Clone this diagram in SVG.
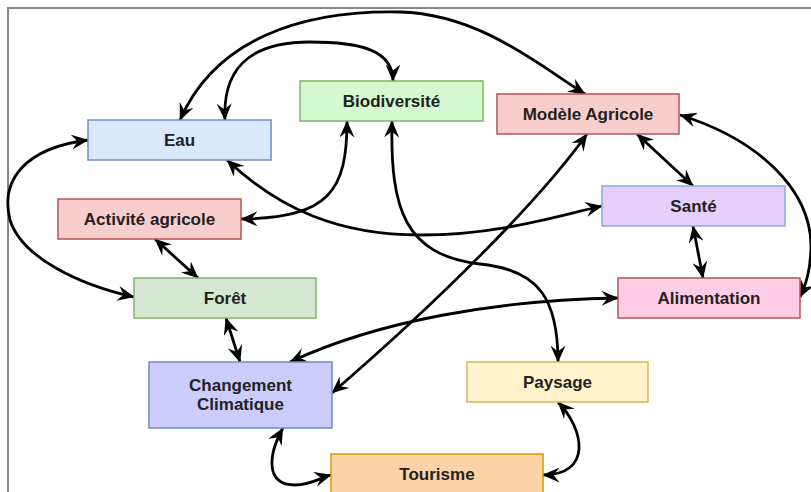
<svg xmlns="http://www.w3.org/2000/svg" width="811" height="492" viewBox="0 0 811 492">
<defs>
<marker id="arr" viewBox="0 0 17 15" refX="16.5" refY="7.5" markerWidth="17" markerHeight="15" markerUnits="userSpaceOnUse" orient="auto-start-reverse">
<path d="M0,0 L17,7.5 L0,15 L6,7.5 z" fill="#000"/>
</marker>
</defs>
<style>
.box{stroke-width:1.5}
.lbl{font-family:"Liberation Sans",Arial,sans-serif;font-size:17px;font-weight:bold;fill:#222;text-anchor:middle}
.edge{fill:none;stroke:#000;stroke-width:2.8;marker-start:url(#arr);marker-end:url(#arr)}
</style>
<rect x="0" y="0" width="811" height="492" fill="#fff"/>
<path d="M8,492 L8,8 L811,8" fill="none" stroke="#888" stroke-width="2"/>
<g id="connectors">
<path class="edge" d="M180,120 C215,40 300,10 400,12 C480,14 540,66 585,94"/>
<path class="edge" d="M225,120 C222,60 260,42 310,42 C360,42 393,50 393,81"/>
<path class="edge" d="M227,160 C280,210 340,235 420,235 C500,235 560,215 602,206"/>
<path class="edge" d="M347,121 C347,190 330,218 241,219"/>
<path class="edge" d="M392,121 C390,210 405,255 480,264 C540,270 558,300 558,362"/>
<path class="edge" d="M587,134 C540,200 440,300 332,393"/>
<path class="edge" d="M637,134 L693,186"/>
<path class="edge" d="M680,115 C760,140 810,190 811,245 C811,270 806,285 800,297"/>
<path class="edge" d="M693,226 L703,278"/>
<path class="edge" d="M155,239 L198,278"/>
<path class="edge" d="M88,140 C25,148 0,180 10,220 C22,258 80,285 134,297"/>
<path class="edge" d="M226,318 L240,362"/>
<path class="edge" d="M618,298 C500,300 380,320 290,362"/>
<path class="edge" d="M283,428 C268,455 265,485 295,485 C310,485 320,478 331,475"/>
<path class="edge" d="M558,402 C585,430 592,475 543,475"/>
</g>
<g id="eau"><rect class="box" x="88" y="120" width="183" height="40" fill="#dae8fc" stroke="#6c8ebf"/><text class="lbl" x="179.5" y="146">Eau</text></g>
<g id="biodiversite"><rect class="box" x="300" y="81" width="183" height="40" fill="#d4f8d0" stroke="#82b366"/><text class="lbl" x="391.5" y="107">Biodiversité</text></g>
<g id="modele-agricole"><rect class="box" x="497" y="94" width="182" height="40" fill="#f8cecc" stroke="#b85450"/><text class="lbl" x="588" y="120">Modèle Agricole</text></g>
<g id="sante"><rect class="box" x="602" y="186" width="183" height="40" fill="#e4d0fa" stroke="#8fa8e8"/><text class="lbl" x="693.5" y="212">Santé</text></g>
<g id="activite-agricole"><rect class="box" x="58" y="199" width="183" height="40" fill="#f8cecc" stroke="#b85450"/><text class="lbl" x="149.5" y="225">Activité agricole</text></g>
<g id="foret"><rect class="box" x="134" y="278" width="182" height="40" fill="#d5e8d4" stroke="#82b366"/><text class="lbl" x="225" y="304">Forêt</text></g>
<g id="changement-climatique"><rect class="box" x="149" y="362" width="183" height="66" fill="#ccccff" stroke="#6c8ebf"/><text class="lbl" x="240.5" y="391">Changement</text><text class="lbl" x="240.5" y="410">Climatique</text></g>
<g id="alimentation"><rect class="box" x="618" y="278" width="182" height="40" fill="#ffcce6" stroke="#b85450"/><text class="lbl" x="709" y="304">Alimentation</text></g>
<g id="paysage"><rect class="box" x="467" y="362" width="181" height="40" fill="#fff2cc" stroke="#d6b656"/><text class="lbl" x="557.5" y="388">Paysage</text></g>
<g id="tourisme"><rect class="box" x="331" y="454" width="212" height="45" fill="#fbd3a6" stroke="#d79b00"/><text class="lbl" x="437" y="480">Tourisme</text></g>
</svg>
